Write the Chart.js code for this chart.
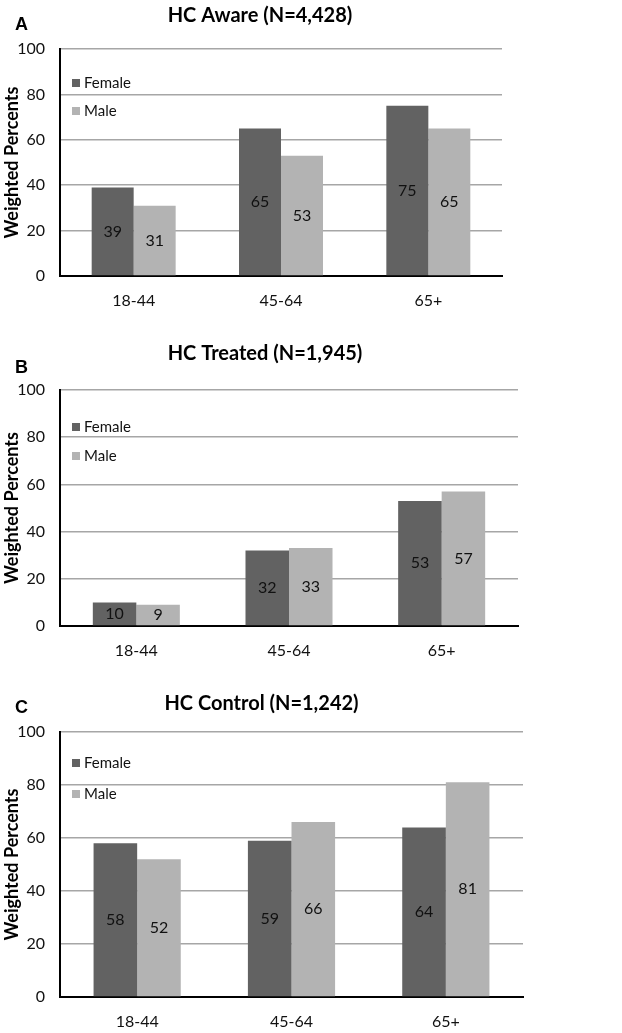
<!DOCTYPE html>
<html>
<head>
<meta charset="utf-8">
<script src="https://cdn.jsdelivr.net/npm/chart.js@4.4.0/dist/chart.umd.min.js"></script>
<style>
  body { margin: 0; background: #fff; }
  #wrap { position: relative; width: 622px; height: 1033px; }
  .panel { position: absolute; left: 0; width: 622px; }
  .letter { position: absolute; left: 15px; font: bold 18px "Liberation Sans", Arial, sans-serif; color: #000; }
</style>
</head>
<body>
<div id="wrap">
  <div class="panel" style="top:0;height:330px"><canvas id="chartA"></canvas></div>
  <div class="panel" style="top:330px;height:345px"><canvas id="chartB"></canvas></div>
  <div class="panel" style="top:675px;height:358px"><canvas id="chartC"></canvas></div>
  <div class="letter" style="top:14px">A</div>
  <div class="letter" style="top:357px">B</div>
  <div class="letter" style="top:697px">C</div>
</div>
<script>
const ageGroups = ["18-44", "45-64", "65+"];
const seriesNames = ["Female", "Male"];

const awareFemale = [39, 65, 75];
const awareMale = [31, 53, 65];
const treatedFemale = [10, 32, 53];
const treatedMale = [9, 33, 57];
const controlFemale = [58, 59, 64];
const controlMale = [52, 66, 81];

const yMin = 0;
const yMax = 100;
const yStep = 20;

const femaleColor = "#626262";
const maleColor = "#b3b3b3";

Chart.defaults.font.family = "Lato, 'Open Sans', sans-serif";
Chart.defaults.color = "#111";

// numbers written in the middle of each bar
const barValues = {
  id: "barValues",
  afterDatasetsDraw(chart) {
    const ctx = chart.ctx;
    ctx.save();
    ctx.font = "16px Lato";
    ctx.fillStyle = "#111";
    ctx.textAlign = "center";
    ctx.textBaseline = "middle";
    chart.data.datasets.forEach((ds, i) => {
      chart.getDatasetMeta(i).data.forEach((bar, j) => {
        const { x, y, base } = bar.getProps(["x", "y", "base"], true);
        ctx.fillText(ds.data[j], x, (y + base) / 2);
      });
    });
    ctx.restore();
  },
};

// legend sits inside the plot, top left, stacked
const insideLegend = {
  id: "insideLegend",
  afterDraw(chart, args, opts) {
    const { ctx, chartArea } = chart;
    ctx.save();
    ctx.font = "15px Lato";
    ctx.textBaseline = "middle";
    chart.data.datasets.forEach((ds, i) => {
      const y = chartArea.top + opts.top + i * opts.gap;
      ctx.fillStyle = ds.backgroundColor;
      ctx.fillRect(chartArea.left + 12, y - 4, 8, 8);
      ctx.fillStyle = "#111";
      ctx.fillText(ds.label, chartArea.left + 24, y);
    });
    ctx.restore();
  },
};

function makeChart(id, title, female, male, cfg) {
  // left padding only moves the centred title; the y axis box soaks it up
  const axisW = 60 - cfg.padLeft;
  const yTitleSize = 18;
  const yTitlePad = 12 - cfg.padLeft - (yTitleSize * 1.2) / 2;
  return new Chart(document.getElementById(id), {
    type: "bar",
    data: {
      labels: ageGroups,
      datasets: [
        { label: seriesNames[0], data: female, backgroundColor: femaleColor },
        { label: seriesNames[1], data: male, backgroundColor: maleColor },
      ],
    },
    plugins: [barValues, insideLegend],
    options: {
      responsive: true,
      maintainAspectRatio: false,
      animation: false,
      categoryPercentage: cfg.catPct,
      barPercentage: 1.0,
      layout: { padding: { left: cfg.padLeft, right: cfg.padRight, top: 0, bottom: 0 } },
      plugins: {
        legend: { display: false },
        tooltip: { enabled: false },
        title: {
          display: true,
          text: title,
          color: "#000",
          font: { size: 20, weight: "bold" },
          padding: { top: cfg.titleTop, bottom: cfg.titleBottom },
        },
        insideLegend: { top: cfg.legendTop, gap: cfg.legendGap },
      },
      scales: {
        x: {
          grid: { display: false },
          border: { color: "#000", width: 2 },
          ticks: { font: { size: 16 }, padding: 7 },
          afterFit: (scale) => { scale.height = cfg.bottomH; },
        },
        y: {
          min: yMin,
          max: yMax,
          ticks: { stepSize: yStep, font: { size: 16 }, padding: 15 },
          grid: {
            drawTicks: false,
            lineWidth: 1.5,
            color: (c) => (c.tick && c.tick.value === 0 ? "#000" : "#a6a6a6"),
          },
          border: { color: "#000", width: 2 },
          title: {
            display: true,
            text: "Weighted Percents",
            color: "#000",
            font: { size: yTitleSize, weight: "bold" },
            padding: { top: yTitlePad, bottom: 0 },
          },
          afterFit: (scale) => { scale.width = axisW; },
        },
      },
    },
  });
}

makeChart("chartA", "HC Aware (N=4,428)", awareFemale, awareMale, {
  padLeft: 18, padRight: 120, catPct: 0.57, titleTop: 4, titleBottom: 21,
  bottomH: 54, legendTop: 34, legendGap: 28,
});
makeChart("chartB", "HC Treated (N=1,945)", treatedFemale, treatedMale, {
  padLeft: 12, padRight: 104, catPct: 0.57, titleTop: 12, titleBottom: 24,
  bottomH: 49, legendTop: 37, legendGap: 29,
});
makeChart("chartC", "HC Control (N=1,242)", controlFemale, controlMale, {
  padLeft: 0, padRight: 99, catPct: 0.565, titleTop: 17, titleBottom: 16,
  bottomH: 36, legendTop: 31, legendGap: 31,
});
</script>
</body>
</html>
